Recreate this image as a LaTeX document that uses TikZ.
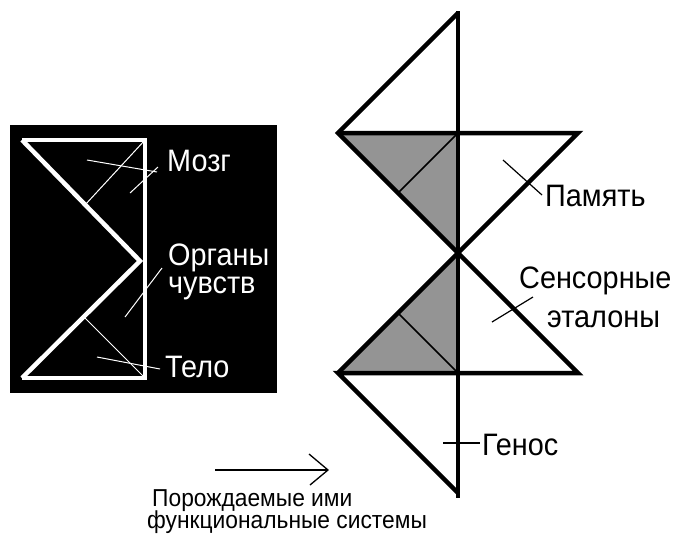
\documentclass[tikz,border=0pt]{standalone}
\usepackage{fontspec}
\setmainfont{Liberation Sans}
\newfontfamily\labfont[FakeStretch=0.93]{Liberation Sans}
\begin{document}
\begin{tikzpicture}[x=1pt,y=-1pt,
  thickw/.style={draw=white,line width=4.5pt,line join=miter},
  thinw/.style={draw=white,line width=1pt},
  thickb/.style={draw=black,line width=4.5pt,line join=miter},
  thinb/.style={draw=black,line width=1.2pt},
  grayfill/.style={fill=black!42},
  lbl/.style={anchor=base west,inner sep=0pt,font=\labfont\fontsize{31}{34}\selectfont},
  lblw/.style={lbl,text=white},
  captxt/.style={anchor=base west,inner sep=0pt,font=\labfont\fontsize{24.5}{27}\selectfont}]
\useasboundingbox (0,0) rectangle (673,542);
% ---------- left panel ----------
\fill[black] (10,125) rectangle (277,393);
\coordinate (LTL) at (22,140);
\coordinate (LTR) at (145,140);
\coordinate (LBR) at (145,378);
\coordinate (LBL) at (22,378);
\coordinate (LM) at (140,261);
\coordinate (LU) at (85,205);
\coordinate (LD) at (85,318);
\draw[thinw] (LU) -- (LTR);
\draw[thinw] (LD) -- (LBR);
\draw[thickw] (LTL) -- (LTR) -- (LBR) -- (LBL);
\draw[thickw] (LTL) -- (LM) -- (LBL);
\node[lblw] (mozg) at (167,171) {Мозг};
\node[lblw] (organy) at (168,265) {Органы};
\node[lblw] (chuvstv) at (168,293) {чувств};
\node[lblw] (telo) at (165,377) {Тело};
\coordinate (m1) at (87,160);
\coordinate (m2) at (130,193);
\coordinate (mz1) at (157,172);
\coordinate (mz2) at (158,167);
\coordinate (o1) at (125,317);
\coordinate (o2) at (162,268);
\coordinate (t1) at (97,357);
\coordinate (t2) at (160,369);
\draw[thinw] (m1) -- (mz1);
\draw[thinw] (m2) -- (mz2);
\draw[thinw] (o1) -- (o2);
\draw[thinw] (t1) -- (t2);
% ---------- right structure ----------
\coordinate (RT) at (458,13);
\coordinate (RL1) at (338,133);
\coordinate (RC1) at (458,133);
\coordinate (RR1) at (578,133);
\coordinate (RM) at (458,253);
\coordinate (RL2) at (338,373);
\coordinate (RC2) at (458,373);
\coordinate (RR2) at (578,373);
\coordinate (RB) at (458,493);
\coordinate (RBV) at (458,498);
\coordinate (RTV) at (458,11);
\coordinate (RH1) at (398,193);
\coordinate (RH2) at (398,313);
\fill[grayfill] (RL1) -- (RC1) -- (RM) -- cycle;
\fill[grayfill] (RM) -- (RL2) -- (RC2) -- cycle;
\draw[thinb,line width=1.5pt] (RC1) -- (RH1);
\draw[thinb,line width=1.5pt] (RC2) -- (RH2);
\draw[thickb] (RT) -- (RL1) -- (RM) -- (RR2) -- (RL2) -- (RB);
\draw[thickb] (RL1) -- (RR1) -- (RM) -- (RL2);
\draw[thickb] (RTV) -- (RBV);
\node[lbl] (pamyat) at (545,206) {Память};
\node[lbl] (sens) at (519,288) {Сенсорные};
\node[lbl] (etal) at (547,327) {эталоны};
\node[lbl] (genos) at (482,455) {Генос};
\coordinate (p1) at (503,160);
\coordinate (p2) at (542,195);
\coordinate (s1) at (492,322);
\coordinate (s2) at (533,297);
\coordinate (g1) at (443,443);
\coordinate (g2) at (480,443);
\draw[thinb] (p1) -- (p2);
\draw[thinb] (s1) -- (s2);
\draw[thinb] (g1) -- (g2);
% ---------- arrow and caption ----------
\coordinate (as) at (215,470);
\coordinate (ae) at (328,470);
\draw[line width=1.3pt] (as) -- (ae);
\draw[line width=1.3pt] (ae) ++(-19,-16) -- (ae) -- ++(-18,15);
\node[captxt] (cap1) at (152,506) {Порождаемые ими};
\node[captxt] (cap2) at (147,528) {функциональные системы};
\end{tikzpicture}
\end{document}
